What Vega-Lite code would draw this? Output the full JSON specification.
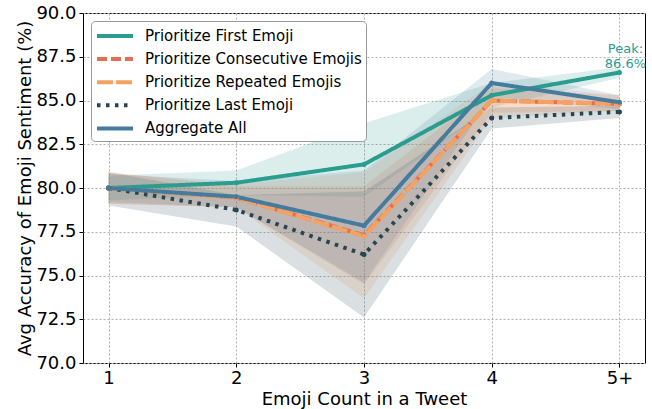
{
  "$schema": "https://vega.github.io/schema/vega-lite/v6.json",
  "width": 562,
  "height": 350,
  "autosize": "none",
  "padding": {"left": 83, "top": 13, "right": 7, "bottom": 46},
  "config": {
    "font": "DejaVu Sans",
    "view": {"stroke": "black", "strokeWidth": 1},
    "axis": {
      "labelFont": "DejaVu Sans", "labelFontSize": 18, "labelColor": "black",
      "titleFont": "DejaVu Sans", "titleFontSize": 18, "titleFontWeight": "normal", "titleColor": "black",
      "tickColor": "black", "tickSize": 4, "domain": false,
      "grid": true, "gridColor": "#b0b0b0", "gridDash": [2, 2], "gridWidth": 1
    },
    "legend": {
      "labelFont": "DejaVu Sans", "labelFontSize": 15, "labelColor": "black"
    }
  },
  "datasets": {
    "stats": [
      {"series": "Prioritize First Emoji", "count": 1, "mean": 80.0, "lower": 79.3, "upper": 80.7},
      {"series": "Prioritize First Emoji", "count": 2, "mean": 80.3, "lower": 79.6, "upper": 81.0},
      {"series": "Prioritize First Emoji", "count": 3, "mean": 81.35, "lower": 79.5, "upper": 83.7},
      {"series": "Prioritize First Emoji", "count": 4, "mean": 85.3, "lower": 84.6, "upper": 86.0},
      {"series": "Prioritize First Emoji", "count": 5, "mean": 86.6, "lower": 86.3, "upper": 86.9},
      {"series": "Prioritize Consecutive Emojis", "count": 1, "mean": 80.0, "lower": 79.1, "upper": 80.9},
      {"series": "Prioritize Consecutive Emojis", "count": 2, "mean": 79.45, "lower": 78.9, "upper": 80.1},
      {"series": "Prioritize Consecutive Emojis", "count": 3, "mean": 77.3, "lower": 74.5, "upper": 80.1},
      {"series": "Prioritize Consecutive Emojis", "count": 4, "mean": 85.0, "lower": 84.3, "upper": 85.7},
      {"series": "Prioritize Consecutive Emojis", "count": 5, "mean": 84.8, "lower": 84.4, "upper": 85.3},
      {"series": "Prioritize Repeated Emojis", "count": 1, "mean": 80.0, "lower": 79.1, "upper": 80.9},
      {"series": "Prioritize Repeated Emojis", "count": 2, "mean": 79.45, "lower": 78.9, "upper": 80.2},
      {"series": "Prioritize Repeated Emojis", "count": 3, "mean": 77.25, "lower": 73.7, "upper": 80.9},
      {"series": "Prioritize Repeated Emojis", "count": 4, "mean": 85.0, "lower": 84.0, "upper": 86.0},
      {"series": "Prioritize Repeated Emojis", "count": 5, "mean": 84.8, "lower": 84.4, "upper": 85.3},
      {"series": "Prioritize Last Emoji", "count": 1, "mean": 80.0, "lower": 79.0, "upper": 80.9},
      {"series": "Prioritize Last Emoji", "count": 2, "mean": 78.75, "lower": 77.8, "upper": 79.6},
      {"series": "Prioritize Last Emoji", "count": 3, "mean": 76.2, "lower": 72.6, "upper": 79.8},
      {"series": "Prioritize Last Emoji", "count": 4, "mean": 84.0, "lower": 83.4, "upper": 84.6},
      {"series": "Prioritize Last Emoji", "count": 5, "mean": 84.35, "lower": 84.0, "upper": 84.7},
      {"series": "Aggregate All", "count": 1, "mean": 80.0, "lower": 79.2, "upper": 80.8},
      {"series": "Aggregate All", "count": 2, "mean": 79.5, "lower": 78.9, "upper": 80.4},
      {"series": "Aggregate All", "count": 3, "mean": 77.85, "lower": 74.6, "upper": 81.0},
      {"series": "Aggregate All", "count": 4, "mean": 86.0, "lower": 85.2, "upper": 86.8},
      {"series": "Aggregate All", "count": 5, "mean": 84.9, "lower": 84.5, "upper": 85.3}
    ],
    "notes": [
      {"count": 5, "mean": 86.6, "label": "Peak:\n86.6%"}
    ]
  },
  "layer": [
    {
      "data": {"name": "stats"},
      "mark": {"type": "area", "opacity": 0.17},
      "encoding": {
        "x": {"field": "count", "type": "quantitative"},
        "y": {"field": "lower", "type": "quantitative"},
        "y2": {"field": "upper"},
        "color": {"field": "series", "type": "nominal"}
      }
    },
    {
      "data": {"name": "stats"},
      "mark": {"type": "line", "strokeWidth": 4, "strokeCap": "butt"},
      "encoding": {
        "x": {"field": "count", "type": "quantitative",
          "scale": {"domain": [0.8, 5.2], "nice": false, "zero": false},
          "axis": {"values": [1, 2, 3, 4, 5], "labelExpr": "datum.value == 5 ? '5+' : datum.label", "format": "d",
            "title": "Emoji Count in a Tweet", "labelPadding": 2, "titlePadding": 3}},
        "y": {"field": "mean", "type": "quantitative",
          "scale": {"domain": [70, 90], "nice": false, "zero": false},
          "axis": {"values": [70, 72.5, 75, 77.5, 80, 82.5, 85, 87.5, 90], "format": ".1f",
            "title": "Avg Accuracy of Emoji Sentiment (%)", "labelPadding": 3, "titlePadding": 1}},
        "color": {"field": "series", "type": "nominal",
          "scale": {"domain": ["Prioritize First Emoji", "Prioritize Consecutive Emojis", "Prioritize Repeated Emojis", "Prioritize Last Emoji", "Aggregate All"],
            "range": ["#2a9d8f", "#e76f51", "#f4a261", "#264653", "#457b9d"]},
          "legend": {"title": null, "orient": "none", "legendX": 8, "legendY": 8,
            "fillColor": "white", "strokeColor": "#999999", "cornerRadius": 4, "padding": 4,
            "symbolType": "M-1,0H3", "symbolStrokeWidth": 4, "symbolSize": 324, "symbolOpacity": 1,
            "labelOffset": 28, "rowPadding": 4.1, "labelLimit": 400,
            "encode": {"symbols": {"update": {
              "shape": {"value": "M-1,0H3"},
              "opacity": {"value": 1},
              "fillOpacity": {"value": 0},
              "strokeOpacity": {"value": 1},
              "strokeWidth": {"value": 4},
              "stroke": {"scale": "color", "field": "value"}
            }}}}},
        "strokeDash": {"field": "series", "type": "nominal",
          "scale": {"domain": ["Prioritize First Emoji", "Prioritize Consecutive Emojis", "Prioritize Repeated Emojis", "Prioritize Last Emoji", "Aggregate All"],
            "range": [[1, 0], [10, 4], [16, 3], [3.5, 5.5], [1, 0]]},
          "legend": {"title": null}}
      }
    },
    {
      "data": {"name": "stats"},
      "mark": {"type": "point", "filled": true, "size": 25, "opacity": 1, "shape": "circle"},
      "encoding": {
        "x": {"field": "count", "type": "quantitative"},
        "y": {"field": "mean", "type": "quantitative"},
        "color": {"field": "series", "type": "nominal"}
      }
    },
    {
      "data": {"name": "notes"},
      "mark": {"type": "text", "color": "#2a9d8f", "fontSize": 13, "align": "center", "baseline": "bottom", "dx": 6, "dy": -17, "lineBreak": "\n", "lineHeight": 15},
      "encoding": {
        "x": {"field": "count", "type": "quantitative"},
        "y": {"field": "mean", "type": "quantitative"},
        "text": {"field": "label"}
      }
    }
  ]
}
